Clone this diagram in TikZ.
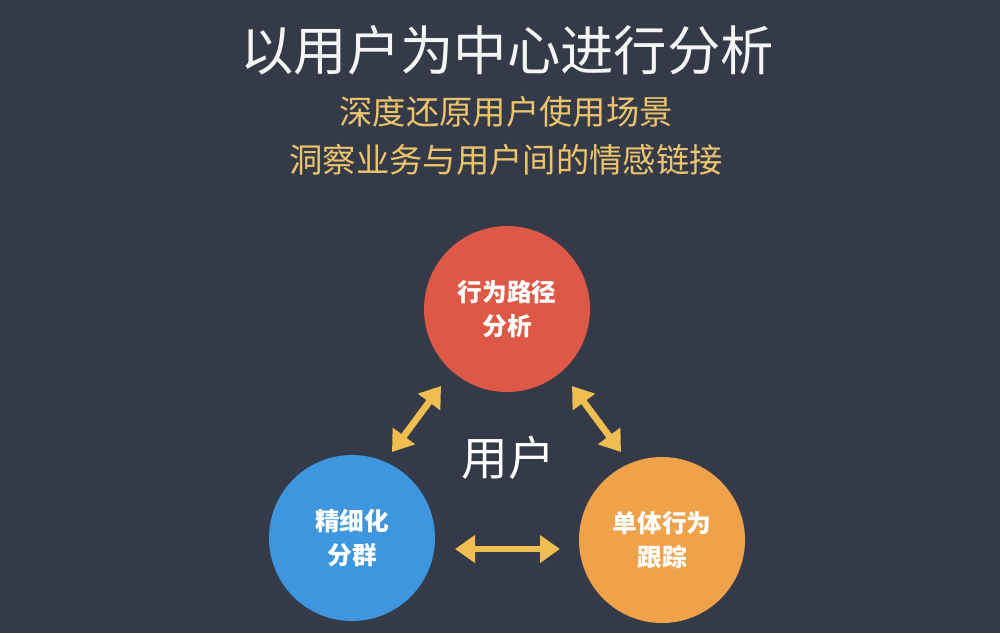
\documentclass[tikz,border=0pt]{standalone}
\usepackage{fontspec}
\setmainfont{Noto Sans CJK SC}
\usetikzlibrary{arrows.meta}
\definecolor{bg}{RGB}{53,58,72}
\definecolor{gold}{RGB}{236,196,110}
\definecolor{arrowgold}{RGB}{238,190,80}
\definecolor{cred}{RGB}{222,88,70}
\definecolor{cblue}{RGB}{62,150,222}
\definecolor{corange}{RGB}{240,162,75}
\tikzset{
  bubble/.style={circle, minimum size=124.5pt, inner sep=0pt, text=white, font=\fontsize{18.5pt}{26pt}\selectfont\bfseries, align=center},
  link/.style={draw=arrowgold, line width=5pt, {Triangle[width=20pt,length=15pt]}-{Triangle[width=20pt,length=15pt]}}
}
\begin{document}
\begin{tikzpicture}[x=0.75pt,y=-0.75pt]
\fill[bg] (0,0) rectangle (1000,633);
\useasboundingbox (0,0) rectangle (1000,633);
\node[text=white!92!gray, font=\fontsize{40pt}{48pt}\selectfont] (title) at (507,50) {以用户为中心进行分析};
\node[text=gold, font=\fontsize{25pt}{30pt}\selectfont] (sub1) at (506,112) {深度还原用户使用场景};
\node[text=gold, font=\fontsize{25pt}{30pt}\selectfont] (sub2) at (506,160) {洞察业务与用户间的情感链接};
\node[bubble, fill=cred] (path) at (507,309) {行为路径\\分析};
\node[bubble, fill=cblue] (group) at (352,538) {精细化\\分群};
\node[bubble, fill=corange] (track) at (662,540) {单体行为\\跟踪};
\node[text=white, font=\fontsize{35pt}{40pt}\selectfont] (user) at (508,458) {用户};
\coordinate (a1) at (392,452);
\coordinate (a2) at (441,386);
\coordinate (b1) at (572,386);
\coordinate (b2) at (621,452);
\coordinate (c1) at (455,549);
\coordinate (c2) at (560,549);
\draw[link] (a1) -- (a2);
\draw[link] (b1) -- (b2);
\draw[link] (c1) -- (c2);
\end{tikzpicture}
\end{document}
